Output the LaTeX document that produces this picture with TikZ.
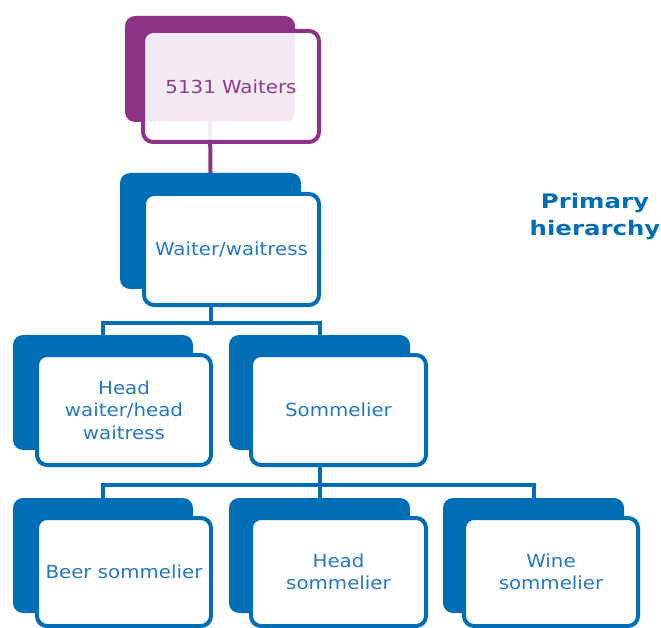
\documentclass[tikz,border=0pt]{standalone}
\usepackage{fontspec}
\setmainfont{DejaVu Sans}[FakeStretch=1.1]
\newfontfamily\labelfont{DejaVu Sans}[FakeStretch=1.22]
\definecolor{boxblue}{RGB}{0,110,180}
\definecolor{txtblue}{RGB}{35,120,195}
\definecolor{boxpurple}{RGB}{140,50,135}
\definecolor{txtpurple}{RGB}{140,60,145}
\tikzset{
  back/.style={fill=#1, rounded corners=10pt, inner sep=0pt},
  front/.style={draw=#1, line width=4pt, fill=white, rounded corners=10pt, inner sep=2pt, align=center,
     font=\fontsize{18}{22.5}\selectfont},
  conn/.style={draw=#1, line width=4pt},
}
\begin{document}
\begin{tikzpicture}[x=1pt,y=1pt]
\useasboundingbox (0,0) rectangle (661,-628);
% back boxes
\node[back=boxpurple, minimum width=170pt, minimum height=106pt] (pb) at (210,-69) {};
\node[back=boxblue, minimum width=181pt, minimum height=116pt] (wb) at (210.5,-231) {};
\node[back=boxblue, minimum width=180pt, minimum height=115pt] (hwb) at (103,-392.5) {};
\node[back=boxblue, minimum width=181pt, minimum height=115pt] (sb) at (319.5,-392.5) {};
\node[back=boxblue, minimum width=180pt, minimum height=115pt] (bsb) at (103,-555.5) {};
\node[back=boxblue, minimum width=181pt, minimum height=115pt] (hsb) at (319.5,-555.5) {};
\node[back=boxblue, minimum width=181pt, minimum height=115pt] (wsb) at (533.5,-555.5) {};
% connectors
\coordinate (bus1) at (0,-323);
\coordinate (bus2) at (0,-485);
\draw[conn=boxpurple] (pb.south) -- (wb.north);
\draw[conn=boxblue] (wb.south) -- (wb.south |- bus1) -| (hwb.north);
\draw[conn=boxblue] (wb.south |- bus1) -| (sb.north);
\draw[conn=boxblue] (sb.south) -- (sb.south |- bus2) -| (bsb.north);
\draw[conn=boxblue] (sb.south |- bus2) -| (wsb.north);
\draw[conn=boxblue] (sb.south |- bus2) -- (hsb.north);
% front boxes
\node[front=boxpurple, fill opacity=0.9, text opacity=1, text=txtpurple, minimum width=176pt, minimum height=111pt] (p) at (231,-86.5) {5131 Waiters};
\node[front=boxblue, text=txtblue, minimum width=175pt, minimum height=111pt] (w) at (231.5,-249.5) {Waiter/waitress};
\node[front=boxblue, text=txtblue, minimum width=174pt, minimum height=110pt] (hw) at (124,-410) {Head\\waiter/head\\waitress};
\node[front=boxblue, text=txtblue, minimum width=175pt, minimum height=110pt] (s) at (338.5,-410) {Sommelier};
\node[front=boxblue, text=txtblue, minimum width=174pt, minimum height=108pt] (bs) at (124,-572) {Beer sommelier};
\node[front=boxblue, text=txtblue, minimum width=175pt, minimum height=108pt] (hs) at (338.5,-572) {Head\\sommelier};
\node[front=boxblue, text=txtblue, minimum width=174pt, minimum height=108pt] (ws) at (551,-572) {Wine\\sommelier};
% label
\node[align=center, text=boxblue, font=\labelfont\fontsize{20}{27}\selectfont\bfseries] (ph) at (595,-217) {Primary\\hierarchy};
\end{tikzpicture}
\end{document}
